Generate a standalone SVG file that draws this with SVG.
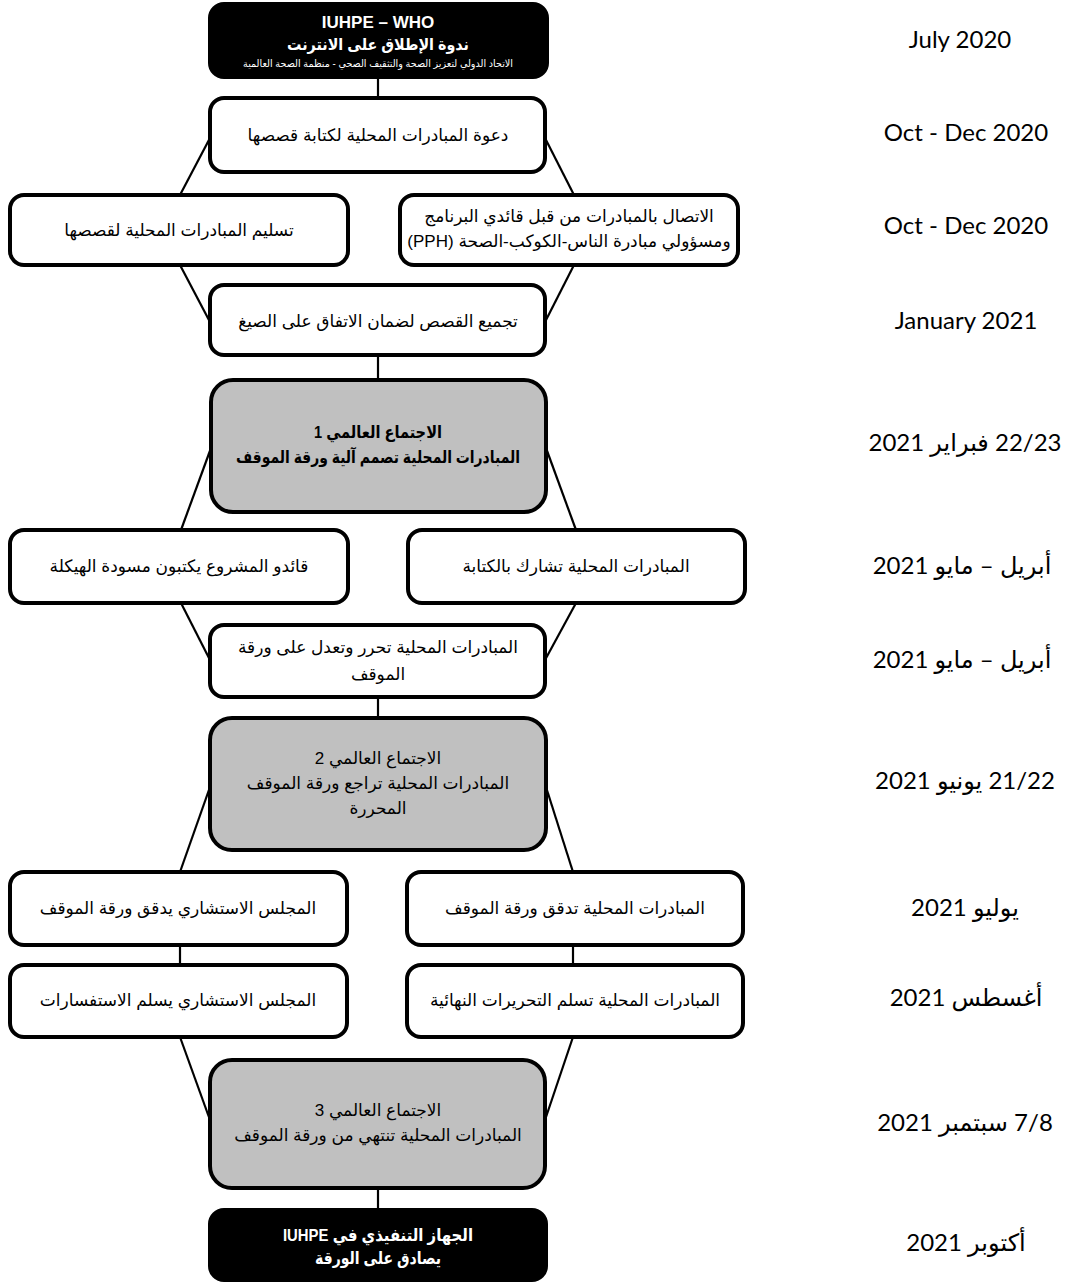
<svg xmlns="http://www.w3.org/2000/svg" width="1067" height="1285" viewBox="0 0 1067 1285">
<style>
.box{fill:#ffffff;stroke:#000000;stroke-width:4}
.gray{fill:#c0c0c0;stroke:#000000;stroke-width:4}
.black{fill:#000000;stroke:#000000;stroke-width:4}
.t{font-family:"Liberation Sans","DejaVu Sans",sans-serif;font-size:17px;fill:#000000;text-anchor:middle;direction:rtl;unicode-bidi:embed}
.b{font-weight:bold}
.w{fill:#ffffff}
.d{font-family:Lato,"Open Sans","DejaVu Sans",sans-serif;font-size:24px;fill:#000000;text-anchor:middle;direction:rtl;unicode-bidi:embed}
.dl{font-family:Lato,"Open Sans","DejaVu Sans",sans-serif;font-size:24px;fill:#000000;text-anchor:middle}
.c{stroke:#000000;stroke-width:2.2;fill:none}
</style>
<rect width="1067" height="1285" fill="#ffffff"/>
<g id="connectors">
<line class="c" x1="378" y1="77" x2="378" y2="98"/>
<line class="c" x1="210" y1="138" x2="180" y2="195"/>
<line class="c" x1="545" y1="138" x2="574" y2="195"/>
<line class="c" x1="180" y1="265" x2="210" y2="322"/>
<line class="c" x1="574" y1="265" x2="545" y2="322"/>
<line class="c" x1="378" y1="355" x2="378" y2="380"/>
<line class="c" x1="211" y1="448" x2="181" y2="530"/>
<line class="c" x1="546" y1="448" x2="576" y2="530"/>
<line class="c" x1="181" y1="603" x2="210" y2="660"/>
<line class="c" x1="576" y1="603" x2="545" y2="660"/>
<line class="c" x1="378" y1="697" x2="378" y2="718"/>
<line class="c" x1="210" y1="787" x2="180" y2="872"/>
<line class="c" x1="546" y1="787" x2="573" y2="872"/>
<line class="c" x1="180" y1="945" x2="180" y2="965"/>
<line class="c" x1="573" y1="945" x2="573" y2="965"/>
<line class="c" x1="180" y1="1037" x2="210" y2="1120"/>
<line class="c" x1="573" y1="1037" x2="545" y2="1120"/>
<line class="c" x1="378" y1="1188" x2="378" y2="1210"/>
</g>
<g id="n-launch">
<rect class="black" x="210" y="4" width="337" height="73" rx="14"/>
<text class="t b w" x="378" y="28" style="direction:ltr">IUHPE – WHO</text>
<text class="t b w" x="378" y="50" style="font-size:16px" textLength="182" lengthAdjust="spacingAndGlyphs">ندوة الإطلاق على الانترنت</text>
<text class="t w" x="378" y="67" style="font-size:10px" textLength="270" lengthAdjust="spacingAndGlyphs">الاتحاد الدولي لتعزيز الصحة والتثقيف الصحي - منظمة الصحة العالمية</text>
</g>
<g id="n-invite">
<rect class="box" x="210" y="98" width="335" height="74" rx="14"/>
<text class="t" x="378" y="141">دعوة المبادرات المحلية لكتابة قصصها</text>
</g>
<g id="n-submit">
<rect class="box" x="10" y="195" width="338" height="70" rx="14"/>
<text class="t" x="179" y="236">تسليم المبادرات المحلية لقصصها</text>
</g>
<g id="n-contact">
<rect class="box" x="400" y="195" width="338" height="70" rx="14"/>
<text class="t" x="569" y="222">الاتصال بالمبادرات من قبل قائدي البرنامج</text>
<text class="t" x="569" y="247">ومسؤولي مبادرة الناس-الكوكب-الصحة (PPH)</text>
</g>
<g id="n-compile">
<rect class="box" x="210" y="285" width="335" height="70" rx="14"/>
<text class="t" x="378" y="327">تجميع القصص لضمان الاتفاق على الصيغ</text>
</g>
<g id="n-global1">
<rect class="gray" x="211" y="380" width="335" height="132" rx="22"/>
<text class="t b" x="378" y="438" textLength="128" lengthAdjust="spacingAndGlyphs">الاجتماع العالمي 1</text>
<text class="t b" x="378" y="463" textLength="284" lengthAdjust="spacingAndGlyphs">المبادرات المحلية تصمم آلية ورقة الموقف</text>
</g>
<g id="n-leaders">
<rect class="box" x="10" y="530" width="338" height="73" rx="14"/>
<text class="t" x="179" y="572">قائدو المشروع يكتبون مسودة الهيكلة</text>
</g>
<g id="n-share">
<rect class="box" x="408" y="530" width="337" height="73" rx="14"/>
<text class="t" x="576" y="572">المبادرات المحلية تشارك بالكتابة</text>
</g>
<g id="n-edit">
<rect class="box" x="210" y="625" width="335" height="72" rx="14"/>
<text class="t" x="378" y="653">المبادرات المحلية تحرر وتعدل على ورقة</text>
<text class="t" x="378" y="680">الموقف</text>
</g>
<g id="n-global2">
<rect class="gray" x="210" y="718" width="336" height="132" rx="22"/>
<text class="t" x="378" y="764">الاجتماع العالمي 2</text>
<text class="t" x="378" y="789">المبادرات المحلية تراجع ورقة الموقف</text>
<text class="t" x="378" y="814">المحررة</text>
</g>
<g id="n-board-check">
<rect class="box" x="10" y="872" width="337" height="73" rx="14"/>
<text class="t" x="178" y="914">المجلس الاستشاري يدقق ورقة الموقف</text>
</g>
<g id="n-local-check">
<rect class="box" x="407" y="872" width="336" height="73" rx="14"/>
<text class="t" x="575" y="914">المبادرات المحلية تدقق ورقة الموقف</text>
</g>
<g id="n-board-queries">
<rect class="box" x="10" y="965" width="337" height="72" rx="14"/>
<text class="t" x="178" y="1006">المجلس الاستشاري يسلم الاستفسارات</text>
</g>
<g id="n-final-edits">
<rect class="box" x="407" y="965" width="336" height="72" rx="14"/>
<text class="t" x="575" y="1006">المبادرات المحلية تسلم التحريرات النهائية</text>
</g>
<g id="n-global3">
<rect class="gray" x="210" y="1060" width="335" height="128" rx="22"/>
<text class="t" x="378" y="1116">الاجتماع العالمي 3</text>
<text class="t" x="378" y="1141">المبادرات المحلية تنتهي من ورقة الموقف</text>
</g>
<g id="n-approve">
<rect class="black" x="210" y="1210" width="336" height="70" rx="14"/>
<text class="t b w" x="378" y="1241" textLength="190" lengthAdjust="spacingAndGlyphs">الجهاز التنفيذي في IUHPE</text>
<text class="t b w" x="378" y="1264" textLength="126" lengthAdjust="spacingAndGlyphs">يصادق على الورقة</text>
</g>
<g id="dates">
<text class="dl" x="960" y="48">July 2020</text>
<text class="dl" x="966" y="141">Oct - Dec 2020</text>
<text class="dl" x="966" y="234">Oct - Dec 2020</text>
<text class="dl" x="966" y="329">January 2021</text>
<text class="d" x="965" y="451">22/23 فبراير 2021</text>
<text class="d" x="962" y="574">أبريل – مايو 2021</text>
<text class="d" x="962" y="668">أبريل – مايو 2021</text>
<text class="d" x="965" y="789">21/22 يونيو 2021</text>
<text class="d" x="965" y="916">يوليو 2021</text>
<text class="d" x="966" y="1006">أغسطس 2021</text>
<text class="d" x="965" y="1131">7/8 سبتمبر 2021</text>
<text class="d" x="966" y="1251">أكتوبر 2021</text>
</g>
</svg>
